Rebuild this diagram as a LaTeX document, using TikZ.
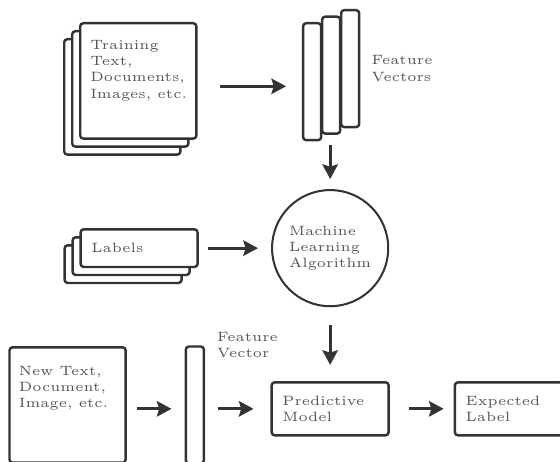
\documentclass[tikz,border=0pt]{standalone}
\usepackage{tikz}
\usetikzlibrary{arrows.meta,positioning,shadows}
\definecolor{inkline}{HTML}{333333}
\definecolor{inktext}{HTML}{555555}
\tikzset{
  fbox/.style   ={draw=inkline, line width=0.9pt, rounded corners=0.4mm, fill=white, inner sep=0pt},
  fpage/.style  ={fbox, minimum width=15.1mm, minimum height=15mm},
  fstack/.style ={copy shadow={draw=inkline, shadow xshift=-2.08mm, shadow yshift=-2.08mm},
                  copy shadow={draw=inkline, shadow xshift=-1.04mm, shadow yshift=-1.04mm}},
  fbar/.style   ={fbox, minimum width=2.35mm, minimum height=15.2mm},
  fbarstack/.style={copy shadow={draw=inkline, shadow xshift=-4.94mm, shadow yshift=-1.7mm},
                  copy shadow={draw=inkline, shadow xshift=-2.47mm, shadow yshift=-0.85mm}},
  ftxt/.style   ={inner sep=0pt, align=left, font=\tiny, text=inktext},
  fproc/.style  ={fbox, ftxt, inner xsep=1.4mm, minimum height=6.9mm},
  fcirc/.style  ={circle, draw=inkline, line width=0.75pt, ftxt, minimum size=15.1mm},
  far/.style    ={-{Stealth[length=1.9mm, width=2mm, inset=0.3mm]}, line width=1.1pt, inkline},
}
\begin{document}
\begin{tikzpicture}
% training data and its feature vectors
\node[fpage, fstack] (train) {};
\useasboundingbox ([shift={(-10.27mm,2.86mm)}]train.north west)
  rectangle ([shift={(62.53mm,-57.07mm)}]train.north west);
\node[ftxt, below right=2.3mm and 1.4mm of train.north west] (traintxt)
  {Training\\Text,\\Documents,\\Images, etc.};
\node[fbar, fbarstack, right=18.5mm of train, yshift=1.6mm] (fvecs) {};
\node[ftxt, right=1.4mm of fvecs] (fvecslab) {Feature\\Vectors};

% learning step
\node[fcirc, below=7.9mm of fvecs, xshift=-2.6mm] (mla) {Machine\\Learning\\Algorithm};
\node[fproc, fstack, text width=12.4mm, minimum height=4.9mm, left=9.4mm of mla] (labels) {Labels};

% prediction row
\node[fproc, text width=12.4mm, below=9.6mm of mla] (pred) {Predictive\\Model};
\node[fbar, left=8.5mm of pred, yshift=0.5mm] (fvec) {};
\node[ftxt, right=1.5mm of fvec.north east] (fveclab) {Feature\\Vector};
\node[fpage, left=7.5mm of fvec] (newtxt) {};
\node[ftxt, below right=2.5mm and 1.3mm of newtxt.north west] (newtxttxt)
  {New Text,\\Document,\\Image, etc.};
\node[fproc, text width=11.2mm, right=8.3mm of pred] (expl) {Expected\\Label};

\draw[far, shorten <=2.9mm, shorten >=7mm] ([yshift=-0.7mm]train.east)
  -- ([yshift=-0.7mm]train.east -| fvecs.west);
\draw[far, shorten <=2.2mm, shorten >=1.3mm] (fvecs.south -| mla.north) -- (mla.north);
\draw[far, shorten <=1.2mm, shorten >=1.7mm] (labels.east) -- (labels.east -| mla.west);
\draw[far, shorten <=2.3mm, shorten >=2.1mm] (mla.south) -- (pred.north);
\draw[far, shorten <=1.3mm, shorten >=1.7mm] (newtxt.east |- pred) -- (fvec.west |- pred);
\draw[far, shorten <=1.7mm, shorten >=2.2mm] (fvec.east |- pred) -- (pred.west);
\draw[far, shorten <=2.5mm, shorten >=1.3mm] (pred.east) -- (expl.west);
\end{tikzpicture}
\end{document}
